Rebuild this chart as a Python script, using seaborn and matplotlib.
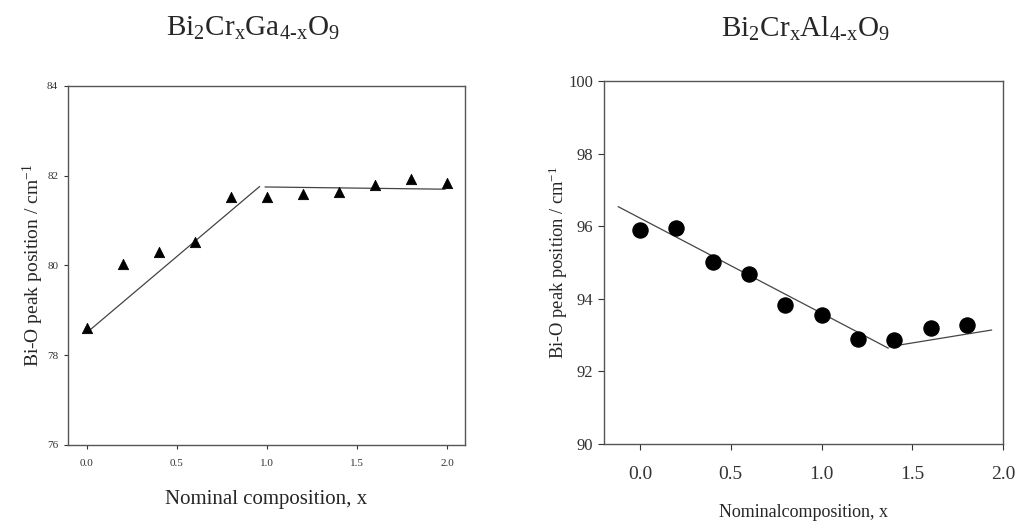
import matplotlib
matplotlib.use("Agg")
import matplotlib.pyplot as plt
import seaborn as sns
import pandas as pd

# Bi2CrxGa4-xO9 data
ga_x = [0.0, 0.2, 0.4, 0.6, 0.8, 1.0, 1.2, 1.4, 1.6, 1.8, 2.0]
ga_peak = [78.60, 80.04, 80.29, 80.53, 81.53, 81.53, 81.59, 81.63, 81.80, 81.93, 81.83]
ga_fit1_x = [0.02, 0.96]
ga_fit1_y = [78.57, 81.76]
ga_fit2_x = [0.99, 1.99]
ga_fit2_y = [81.75, 81.70]

# Bi2CrxAl4-xO9 data
al_x = [0.0, 0.2, 0.4, 0.6, 0.8, 1.0, 1.2, 1.4, 1.6, 1.8]
al_peak = [95.90, 95.94, 95.02, 94.68, 93.83, 93.55, 92.88, 92.86, 93.19, 93.28]
al_fit1_x = [-0.12, 1.367]
al_fit1_y = [96.54, 92.64]
al_fit2_x = [1.372, 1.936]
al_fit2_y = [92.68, 93.14]

sns.set_style("white")
plt.rcParams['font.family'] = ['Liberation Serif', 'DejaVu Serif']
plt.rcParams['mathtext.fontset'] = 'custom'
plt.rcParams['mathtext.rm'] = 'Liberation Serif'
plt.rcParams['mathtext.it'] = 'Liberation Serif'

spine_col = '#555555'
line_col = '#444444'

fig = plt.figure(figsize=(10.19, 5.25), dpi=100)
ax1 = fig.add_axes([0.0667, 0.1524, 0.3896, 0.6838])
ax2 = fig.add_axes([0.593, 0.1543, 0.3916, 0.6914])

# left panel
df_ga = pd.DataFrame({'x': ga_x, 'peak': ga_peak})
sns.lineplot(x=ga_fit1_x, y=ga_fit1_y, ax=ax1, color=line_col, lw=0.9)
sns.lineplot(x=ga_fit2_x, y=ga_fit2_y, ax=ax1, color=line_col, lw=0.9)
sns.scatterplot(data=df_ga, x='x', y='peak', ax=ax1, marker='^', s=55,
                color='black', edgecolor='black', zorder=3)
ax1.set_xlim(-0.104, 2.1)
ax1.set_ylim(76, 84)
ax1.set_xticks([0.0, 0.5, 1.0, 1.5, 2.0])
ax1.set_xticklabels(['0.0', '0.5', '1.0', '1.5', '2.0'])
ax1.set_yticks([76, 78, 80, 82, 84])
ax1.tick_params(axis='x', labelsize=8, colors='#333333', length=3,
                width=0.8, direction='out', bottom=True, pad=7)
ax1.tick_params(axis='y', labelsize=8, colors='#333333', length=3,
                width=0.8, direction='out', left=True, pad=4)
ax1.set_xlabel('Nominal composition, x', fontsize=15, labelpad=16)
ax1.set_ylabel(r'Bi-O peak position / cm$^{\mathregular{-1}}$', fontsize=14, labelpad=1)

# right panel
df_al = pd.DataFrame({'x': al_x, 'peak': al_peak})
sns.lineplot(x=al_fit1_x, y=al_fit1_y, ax=ax2, color=line_col, lw=0.9)
sns.lineplot(x=al_fit2_x, y=al_fit2_y, ax=ax2, color=line_col, lw=0.9)
sns.scatterplot(data=df_al, x='x', y='peak', ax=ax2, marker='o', s=120,
                color='black', edgecolor='black', zorder=3)
ax2.set_xlim(-0.196, 2.0)
ax2.set_ylim(90, 100)
ax2.set_xticks([0.0, 0.5, 1.0, 1.5, 2.0])
ax2.set_xticklabels(['0.0', '0.5', '1.0', '1.5', '2.0'])
ax2.set_yticks([90, 92, 94, 96, 98, 100])
ax2.tick_params(axis='x', labelsize=14, colors='#333333', length=4,
                width=0.8, direction='out', bottom=True, pad=12)
ax2.tick_params(axis='y', labelsize=12, colors='#333333', length=4,
                width=0.8, direction='out', left=True, pad=4)
ax2.set_xlabel('Nominalcomposition, x', fontsize=13, labelpad=15)
ax2.set_ylabel(r'Bi-O peak position / cm$^{\mathregular{-1}}$', fontsize=13.3, labelpad=-1)

for ax in (ax1, ax2):
    for sp in ax.spines.values():
        sp.set_visible(True)
        sp.set_color(spine_col)
        sp.set_linewidth(1.0)

fig.text(0.248, 0.945, r'Bi$_{\mathregular{2}}$Cr$_{\mathregular{x}}$Ga$_{\mathregular{4\text{-}x}}$O$_{\mathregular{9}}$',
         ha='center', va='center', fontsize=21)
fig.text(0.790, 0.945, r'Bi$_{\mathregular{2}}$Cr$_{\mathregular{x}}$Al$_{\mathregular{4\text{-}x}}$O$_{\mathregular{9}}$',
         ha='center', va='center', fontsize=21)

fig.savefig('out.png', dpi=100)
